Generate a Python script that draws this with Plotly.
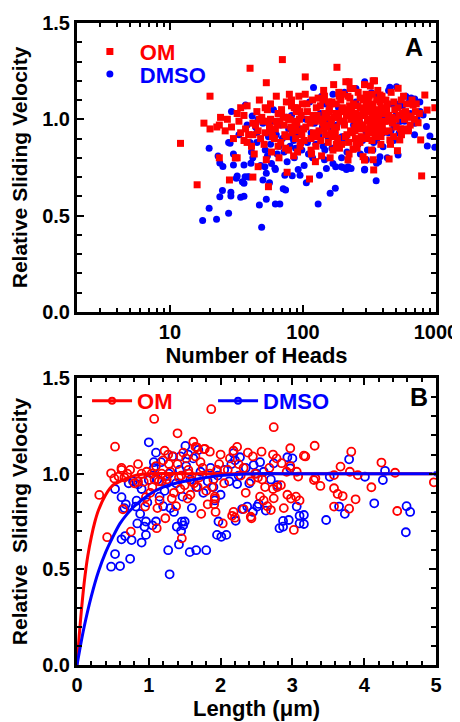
import plotly.graph_objects as go

# ---------------- Panel A data: number of heads vs relative sliding velocity
om_heads = [
    12, 16, 20, 18, 20, 22.5, 24, 23.5, 23.5, 28,
    29, 31, 32, 32, 33, 27, 30, 34, 34, 26,
    40, 53, 42, 46, 38, 36, 37, 39, 41, 44,
    45, 48, 50, 52, 55, 57, 58, 47, 43, 49,
    51, 54, 56, 59, 38, 42, 46, 53, 57, 36,
    70, 104, 76, 62, 65, 68, 72, 75, 78, 80,
    83, 86, 88, 90, 93, 95, 97, 63, 66, 69,
    73, 77, 81, 85, 89, 92, 96, 99, 67, 74,
    61, 79, 87, 94, 71, 84, 91, 64, 98, 82,
    112, 180, 170, 105, 108, 115, 118, 122, 125, 128,
    132, 135, 138, 142, 145, 148, 152, 155, 158, 162,
    165, 168, 172, 176, 182, 186, 190, 195, 198, 110,
    120, 130, 140, 150, 160, 175, 185, 192, 102, 116,
    126, 136, 146, 156, 166, 178, 188, 124, 144, 164,
    210, 290, 345, 340, 205, 215, 220, 225, 230, 235,
    240, 245, 250, 255, 260, 265, 270, 275, 280, 285,
    290, 295, 300, 305, 310, 315, 320, 325, 330, 335,
    350, 355, 360, 365, 370, 375, 380, 385, 390, 395,
    212, 228, 242, 258, 272, 288, 302, 318, 332, 348,
    222, 238, 252, 268, 282, 298, 312, 328, 342, 358,
    208, 232, 262, 278, 308, 338, 368, 388, 218, 248,
    337, 283, 291, 238, 218, 222, 337, 321,
    980, 824, 857, 673, 622, 733, 767, 513, 534, 444,
    412, 450, 519, 379, 780, 700, 410, 430, 470, 490,
    540, 560, 580, 600, 640, 660, 690, 620, 570, 460,
    500, 480, 420, 440, 520, 550, 590, 650, 710, 750,
    42, 47, 52, 58, 63, 69, 75, 82, 88, 95,
    101, 107, 113, 119, 127, 134, 141, 149, 157, 163,
    171, 179, 187, 196, 204, 214, 224, 234, 246, 257,
    269, 281, 293, 306, 319, 333, 347, 362, 377, 393,
    409, 426, 444, 463, 482, 503, 525, 548, 572, 597,
    115, 143, 178, 226, 274, 331, 386, 455, 138, 199,
    55, 65, 78, 91, 104, 160, 250, 310, 365, 420,
]
om_vel_a = [
    0.875, 0.66, 1.12, 0.98, 0.95, 0.96, 1.01, 0.97, 0.80, 0.685,
    0.96, 0.80, 1.03, 0.80, 0.99, 1.00, 0.90, 0.93, 1.06, 0.94,
    1.265, 1.19, 0.70, 0.754, 0.88, 1.02, 0.95, 0.92, 0.86, 0.97,
    1.04, 0.90, 0.99, 0.93, 0.65, 1.08, 0.83, 1.10, 0.82, 1.01,
    0.87, 1.05, 0.96, 0.91, 1.07, 0.98, 0.94, 0.79, 1.00, 0.89,
    1.31, 1.22, 0.725, 0.95, 1.03, 0.88, 0.97, 1.09, 0.84, 1.00,
    0.93, 1.06, 0.90, 0.98, 1.12, 0.86, 1.02, 1.12, 0.80, 1.05,
    0.92, 1.01, 0.96, 0.81, 1.04, 0.94, 0.88, 1.08, 0.99, 0.85,
    0.90, 1.13, 0.99, 1.00, 1.01, 0.95, 0.83, 0.97, 0.92, 1.07,
    0.69, 1.27, 1.18, 0.96, 1.04, 0.90, 1.10, 0.99, 0.86, 1.02,
    0.94, 1.07, 0.81, 0.98, 1.12, 0.92, 1.01, 0.88, 1.05, 0.97,
    1.09, 0.84, 0.95, 1.03, 0.90, 1.14, 0.99, 0.87, 1.06, 1.00,
    0.93, 1.11, 1.00, 0.96, 0.80, 0.93, 1.01, 1.10, 0.89, 0.82,
    1.06, 0.89, 1.03, 1.09, 0.91, 1.08, 0.85, 0.78, 0.95, 1.00,
    1.195, 1.18, 1.20, 0.737, 0.97, 1.05, 0.88, 1.11, 1.00, 0.93,
    1.08, 0.96, 1.03, 0.85, 1.14, 0.99, 1.06, 0.91, 1.02, 1.10,
    0.79, 0.95, 1.07, 1.00, 0.93, 1.12, 0.97, 1.04, 0.89, 1.08,
    0.98, 1.05, 0.92, 1.15, 1.01, 0.94, 1.09, 0.87, 1.03, 0.96,
    1.02, 0.94, 1.00, 1.07, 0.95, 1.03, 0.90, 1.00, 1.13, 0.91,
    0.82, 1.16, 0.98, 0.88, 1.05, 1.13, 0.99, 0.84, 1.01, 1.10,
    0.91, 1.06, 1.01, 0.97, 1.04, 0.96, 0.99, 1.06, 1.12, 0.90,
    0.79, 0.806, 0.789, 0.844, 0.789, 1.195, 1.20, 1.173,
    1.06, 1.126, 1.048, 1.074, 1.017, 0.982, 0.893, 0.837, 0.893, 0.794,
    0.936, 0.893, 1.161, 1.126, 0.706, 1.04, 1.03, 1.08, 0.98, 1.05,
    0.95, 1.03, 1.00, 1.08, 0.97, 1.10, 1.00, 0.94, 1.12, 1.14,
    1.00, 0.91, 0.99, 1.02, 1.06, 0.92, 1.04, 1.01, 1.08, 1.03,
    0.92, 1.00, 1.06, 0.94, 0.99, 1.03, 0.91, 1.10, 0.97, 1.04,
    0.95, 1.08, 0.98, 1.02, 0.91, 1.00, 1.10, 0.97, 1.04, 0.93,
    1.01, 0.96, 1.12, 1.04, 0.99, 0.92, 1.07, 1.03, 0.94, 1.00,
    1.11, 0.97, 1.02, 0.95, 1.06, 1.01, 0.97, 1.04, 0.98, 1.12,
    0.99, 1.05, 0.94, 1.01, 1.09, 0.96, 1.02, 1.10, 0.95, 1.03,
    0.84, 1.15, 0.87, 1.16, 0.90, 0.93, 0.91, 0.87, 0.99, 1.13,
    0.99, 0.86, 1.00, 1.06, 1.13, 1.08, 0.88, 1.09, 0.95, 1.10,
]

dmso_heads = [
    19.7, 23, 23.7, 25, 24.8, 23.7, 19.7, 17.6, 22.4, 27.6,
    27.6, 28.3, 30, 36, 37, 31.5, 36.7, 36, 28.7, 28.7,
    34, 29, 35, 39, 32, 36, 37, 33, 38, 30,
    48.9, 47, 53, 62, 67, 71, 74, 95, 106, 56,
    50, 53, 83, 73, 42, 45, 52, 58, 64, 70,
    76, 80, 86, 90, 44, 48, 55, 60, 66, 78,
    85, 92, 98, 41, 46, 54, 62, 68, 82, 88,
    38.7, 40.6, 51.7, 61.5, 41.5,
    120, 130, 160, 175, 133, 150, 176, 200, 216, 110,
    115, 125, 140, 145, 155, 165, 180, 190, 105, 135,
    170, 185, 195, 102, 122, 148, 158, 168, 128, 142,
    291, 450, 505, 593, 692, 756, 800, 534, 692, 620,
    848, 900, 860, 980, 527, 357, 327, 245, 400, 519,
    379, 357, 291, 355, 218, 194, 212, 230, 290, 430,
    210, 240, 260, 280, 300, 320, 340, 250, 270, 310,
    330, 350, 370, 380, 395, 220, 265, 305, 440, 470,
    480, 560, 650, 760, 410, 580, 640, 720, 500, 460,
    40, 45, 50, 57, 63, 72, 80, 88, 97, 108,
    118, 132, 146, 162, 178, 196, 214, 234, 256, 280,
    305, 335, 365, 400, 440, 480, 525, 575, 630, 690,
    60, 75, 90, 112, 138, 168, 205, 250, 300, 370,
]
dmso_vel_a = [
    0.85, 0.81, 0.773, 0.755, 0.63, 0.598, 0.538, 0.474, 0.481, 0.512,
    0.879, 0.875, 0.763, 0.763, 1.074, 0.694, 0.702, 0.668, 0.621, 0.602,
    0.595, 1.04, 0.676, 0.70, 0.706, 0.60, 1.07, 0.92, 0.97, 0.82,
    0.439, 0.555, 0.585, 0.56, 0.56, 0.64, 0.633, 0.71, 0.67, 0.67,
    0.685, 0.72, 0.707, 0.71, 0.80, 0.88, 0.84, 0.77, 0.82, 0.90,
    0.78, 0.86, 0.80, 0.93, 0.96, 0.76, 0.91, 0.99, 0.86, 0.95,
    0.89, 0.74, 0.84, 0.83, 1.00, 0.81, 0.74, 0.97, 1.02, 0.96,
    0.702, 0.772, 0.754, 0.746, 1.017,
    1.165, 0.56, 0.616, 0.642, 0.71, 0.745, 0.754, 0.75, 0.745, 0.82,
    0.93, 0.87, 0.96, 0.79, 0.90, 0.85, 0.97, 0.88, 1.00, 1.03,
    0.93, 1.06, 0.80, 0.76, 0.98, 1.08, 0.99, 0.77, 0.91, 0.86,
    1.195, 1.166, 1.169, 1.12, 1.105, 1.09, 1.022, 0.988, 0.979, 0.944,
    0.962, 0.913, 0.861, 0.855, 0.927, 0.893, 1.138, 0.849, 0.858, 0.815,
    0.806, 0.772, 0.741, 0.681, 0.754, 0.754, 0.74, 0.745, 0.737, 0.80,
    0.90, 0.97, 0.87, 1.03, 0.93, 0.99, 0.88, 1.09, 0.82, 1.06,
    0.96, 1.00, 0.91, 1.05, 0.95, 1.02, 0.99, 0.84, 0.93, 1.08,
    0.97, 1.07, 1.11, 1.04, 1.01, 0.99, 1.03, 1.00, 1.02, 0.94,
    0.88, 0.93, 0.98, 0.87, 0.92, 0.83, 0.91, 0.85, 0.95, 0.88,
    0.80, 0.92, 0.84, 0.95, 0.86, 0.91, 0.83, 0.94, 1.07, 0.89,
    1.10, 0.84, 1.12, 0.93, 1.15, 0.89, 1.08, 0.94, 1.09, 0.92,
    1.05, 1.01, 1.04, 1.09, 1.12, 1.13, 1.14, 1.16, 0.79, 0.78,
]

# ---------------- Panel B data: filament length vs relative sliding velocity
om_length = [
    0.31, 0.42, 0.475, 0.53, 0.52, 0.58, 0.62, 0.62, 0.74, 0.64,
    0.75, 0.85, 0.96, 0.95, 1.075, 1.11, 1.23, 1.40, 1.46, 1.27,
    0.90, 0.97, 1.04, 0.85, 0.93, 1.18, 1.23, 0.66, 0.70, 0.80,
    1.05, 1.10, 1.15, 1.20, 1.25, 1.30, 1.35, 1.40, 1.45, 1.50,
    1.55, 1.60, 1.65, 1.70, 1.75, 1.80, 1.85, 1.90, 1.95, 1.62,
    1.67, 1.77, 1.87, 1.12, 1.22, 1.32, 1.42, 1.52, 1.58, 1.68,
    1.72, 1.82, 1.92, 1.98, 1.08, 1.18, 1.28, 1.38, 1.48, 1.56,
    1.63, 1.73, 1.78, 1.88, 1.93, 1.02, 1.14, 1.34, 1.44, 1.54,
    1.65, 1.85, 2.00, 2.13, 2.23, 2.18, 2.38, 2.45, 2.57,
    2.74, 2.73, 2.78, 2.85, 2.97, 2.97, 3.08, 3.06, 2.52, 2.58,
    2.62, 2.73, 2.79, 2.84, 2.93, 2.98, 3.05, 3.10, 2.03, 3.02,
    2.16, 2.18, 2.20, 1.92, 1.91, 2.05, 2.10, 2.28, 2.35, 2.42,
    2.48, 2.55, 2.65, 2.68, 2.88, 2.92, 2.25, 2.32, 2.60, 2.70,
    2.42, 2.32, 2.74, 3.16, 2.43,
    3.31, 3.82, 3.18, 4.24, 3.67, 4.43, 3.80, 3.91, 3.58, 3.30,
    3.32, 3.39, 3.58, 3.63, 3.70, 4.10, 3.88, 3.58, 3.79, 4.46,
    4.97,
]
om_vel_b = [
    0.889, 0.668, 1.002, 1.141, 0.975, 0.985, 1.03, 1.02, 1.02, 0.814,
    0.697, 1.05, 0.877, 0.828, 1.286, 0.715, 0.767, 1.211, 0.662, 1.10,
    1.00, 1.01, 1.00, 0.958, 0.958, 0.958, 0.985, 0.98, 1.00, 0.95,
    0.93, 1.04, 0.86, 1.07, 0.97, 1.01, 0.90, 1.05, 0.99, 0.94,
    1.02, 0.96, 1.09, 0.98, 1.03, 0.91, 1.00, 0.97, 1.02, 1.167,
    1.138, 1.128, 1.337, 0.82, 1.12, 0.87, 0.98, 1.08, 0.89, 0.93,
    1.06, 0.84, 0.88, 1.05, 0.97, 1.00, 1.05, 0.83, 1.11, 1.00,
    0.95, 0.79, 1.13, 0.93, 0.80, 0.90, 0.96, 1.09, 0.92, 0.87,
    1.14, 1.115, 1.10, 1.08, 1.14, 1.12, 1.11, 1.09, 1.115,
    1.243, 1.10, 1.08, 1.055, 1.133, 1.04, 0.985, 1.01, 0.98, 0.97,
    0.93, 0.92, 0.93, 0.94, 0.89, 0.87, 0.88, 0.86, 0.74, 0.706,
    0.78, 0.80, 0.77, 0.87, 0.84, 0.95, 1.02, 0.99, 0.90, 0.96,
    1.00, 0.88, 0.83, 1.03, 0.82, 1.01, 1.05, 1.03, 0.86, 0.81,
    0.775, 0.815, 0.871, 1.094, 0.767,
    1.146, 1.115, 1.09, 1.058, 1.037, 1.005, 1.01, 0.993, 0.993, 0.967,
    0.976, 0.936, 0.924, 0.894, 0.883, 0.929, 0.866, 0.828, 0.817, 0.805,
    0.955,
]

dmso_length = [
    1.0, 0.53, 0.62, 0.68, 0.66, 0.83, 0.82, 0.67, 0.62, 0.76,
    0.53, 0.475, 0.60, 0.90, 0.84, 0.96, 1.05, 1.10, 0.94, 0.96,
    0.85, 0.90, 1.00, 1.07, 1.07, 1.10, 1.27, 1.42, 1.45, 1.50,
    1.48, 1.57, 0.72, 0.78, 0.88, 0.98, 1.15, 1.20, 1.25, 1.30,
    1.12, 1.17, 1.22, 1.28, 1.33, 1.38, 1.43, 1.47, 1.52, 1.58,
    1.62, 1.66, 1.72, 1.76, 1.82, 1.86, 1.92, 1.96, 1.29, 1.51,
    1.55, 1.69, 1.44, 1.66, 1.80, 1.39, 1.46, 0.74, 1.35, 1.60,
    1.95, 2.01, 2.08, 1.97, 2.30, 2.45,
    2.82, 3.10, 3.10, 2.05, 2.15, 2.25,
    2.35, 2.50, 2.60, 2.70, 1.90, 2.00, 2.12, 2.20, 2.40, 2.55,
    2.18, 2.27, 2.46, 2.74, 2.93, 3.00, 2.97, 2.23, 2.79, 2.37,
    2.51, 2.53, 2.63, 2.21, 2.87, 2.87, 2.95, 3.06, 3.16, 3.16,
    3.47, 3.52, 3.79, 3.65, 3.73, 4.01, 4.14, 4.26, 4.29, 4.59,
    4.64, 4.58,
]
dmso_vel_b = [
    1.164, 0.92, 0.877, 0.84, 0.82, 0.859, 0.828, 0.674, 0.657, 0.653,
    0.58, 0.514, 0.517, 0.64, 0.74, 0.75, 0.73, 0.75, 0.723, 0.68,
    0.944, 0.92, 0.967, 1.06, 1.03, 1.11, 0.60, 0.63, 0.70, 0.75,
    0.73, 0.59, 0.95, 0.96, 0.79, 0.85, 0.88, 0.83, 0.95, 0.82,
    0.97, 1.06, 0.91, 1.00, 1.09, 0.95, 1.02, 0.88, 1.04, 0.97,
    1.08, 0.93, 1.01, 0.90, 0.96, 1.03, 0.86, 0.99, 0.474, 1.145,
    1.10, 1.124, 1.09, 0.60, 0.60, 0.723, 0.749, 0.555, 0.80, 0.82,
    0.68, 0.67, 0.68, 0.75, 0.815, 0.80,
    0.715, 0.78, 0.74, 1.02, 1.05, 0.99,
    1.03, 1.00, 1.01, 0.97, 0.93, 0.89, 0.96, 1.07, 0.95, 1.06,
    1.107, 1.086, 1.045, 1.054, 1.086, 1.08, 1.028, 0.946, 0.94, 0.828,
    0.828, 0.842, 0.807, 0.754, 0.753, 0.723, 0.758, 0.828, 0.784, 0.737,
    0.758, 0.984, 1.075, 0.828, 0.79, 0.984, 0.845, 0.967, 1.015, 0.83,
    0.80, 0.694,
]

# fitted curves, points
om_fit_x = [0, 0.03, 0.06, 0.1, 0.15, 0.2, 0.25, 0.3, 0.4, 0.5, 0.6, 0.8, 1.0, 1.5, 2, 3, 4, 5]
om_fit_y = [0, 0.15, 0.28, 0.43, 0.57, 0.67, 0.75, 0.81, 0.89, 0.94, 0.96, 0.99, 1.0, 1.0, 1.0, 1.0, 1.0, 1.0]
dmso_fit_x = [0, 0.05, 0.1, 0.2, 0.3, 0.4, 0.5, 0.6, 0.7, 0.8, 1.0, 1.2, 1.5, 2.0, 2.5, 3, 4, 5]
dmso_fit_y = [0, 0.105, 0.20, 0.36, 0.49, 0.59, 0.67, 0.74, 0.79, 0.83, 0.89, 0.93, 0.96, 0.99, 1.0, 1.0, 1.0, 1.0]

y_ticks = [0, 0.5, 1.0, 1.5]
y_ticktext = ["0.0", "0.5", "1.0", "1.5"]
heads_ticks = [10, 100, 1000]
heads_ticktext = ["10", "100", "1000"]
heads_minor = [2, 3, 4, 5, 6, 7, 8, 9, 20, 30, 40, 50, 60, 70, 80, 90,
               200, 300, 400, 500, 600, 700, 800, 900]
length_ticks = [0, 1, 2, 3, 4, 5]

RED = "#ff0000"
BLUE = "#0000ff"
FONT = "Liberation Sans, Arial, sans-serif"


def bold(labels):
    return ["<b>%s</b>" % t for t in labels]


fig = go.Figure()

# ---- Panel A (xaxis / yaxis)
fig.add_trace(go.Scatter(
    x=dmso_heads, y=dmso_vel_a, mode="markers", xaxis="x", yaxis="y",
    marker=dict(symbol="circle", size=7, color=BLUE),
    name='<span style="color:#0000ff">DMSO</span>', legend="legend3",
))
fig.add_trace(go.Scatter(
    x=om_heads, y=om_vel_a, mode="markers", xaxis="x", yaxis="y",
    marker=dict(symbol="square", size=7, color=RED),
    name='<span style="color:#ff0000">OM</span>', legend="legend",
))

# ---- Panel B (xaxis2 / yaxis2)
fig.add_trace(go.Scatter(
    x=dmso_length, y=dmso_vel_b, mode="markers", xaxis="x2", yaxis="y2",
    marker=dict(symbol="circle-open", size=8, color=BLUE, line=dict(width=1.8, color=BLUE)),
    showlegend=False,
))
fig.add_trace(go.Scatter(
    x=om_length, y=om_vel_b, mode="markers", xaxis="x2", yaxis="y2",
    marker=dict(symbol="circle-open", size=8, color=RED, line=dict(width=1.8, color=RED)),
    showlegend=False,
))
fig.add_trace(go.Scatter(
    x=om_fit_x, y=om_fit_y, mode="lines", xaxis="x2", yaxis="y2",
    line=dict(color=RED, width=3, shape="spline", smoothing=0.6), showlegend=False,
))
fig.add_trace(go.Scatter(
    x=dmso_fit_x, y=dmso_fit_y, mode="lines+markers", xaxis="x2", yaxis="y2",
    line=dict(color=BLUE, width=3, shape="spline", smoothing=0.6),
    marker=dict(symbol="circle", size=[0] * (len(dmso_fit_x) - 1) + [7], color=BLUE),
    showlegend=False,
))
# legend entries for panel B
fig.add_trace(go.Scatter(
    x=[None], y=[None], mode="lines+markers", xaxis="x2", yaxis="y2",
    line=dict(color=RED, width=3), marker=dict(symbol="circle-open", size=6, color=RED, line=dict(width=2, color=RED)),
    name='<span style="color:#ff0000">OM</span>', legend="legend2", legendrank=1,
))
fig.add_trace(go.Scatter(
    x=[None], y=[None], mode="lines+markers", xaxis="x2", yaxis="y2",
    line=dict(color=BLUE, width=3), marker=dict(symbol="circle-open", size=6, color=BLUE, line=dict(width=2, color=BLUE)),
    name='<span style="color:#0000ff">DMSO</span>', legend="legend2", legendrank=2,
))

tickfont = dict(family=FONT, size=20, color="black", weight="bold")
xtitlefont = dict(family=FONT, size=22, color="black", weight="bold")
ytitlefont = dict(family=FONT, size=21, color="black", weight="bold")
legfont = dict(family=FONT, size=22, weight="bold")

common_axis = dict(
    showline=True, linewidth=3, linecolor="black", mirror="allticks",
    ticks="inside", tickwidth=2, tickcolor="black", ticklen=7,
    showgrid=False, zeroline=False, tickfont=tickfont, automargin=False,
)

yaxis_common = dict(
    common_axis, range=[0, 1.5], tickmode="array", tickvals=y_ticks, ticktext=bold(y_ticktext),
    minor=dict(ticks="inside", dtick=0.1, tick0=0, ticklen=5, tickwidth=2, tickcolor="black", showgrid=False),
)

# the page body adds an 8 px offset, so margins are shifted by 8 px
fig.update_layout(
    width=460, height=714,
    margin=dict(l=69, r=32, t=15, b=57),
    paper_bgcolor="white", plot_bgcolor="white",
    font=dict(family=FONT, color="black"),
    xaxis=dict(
        common_axis, type="log", range=[0.301, 3.0], domain=[0, 1], anchor="y",
        tickmode="array", tickvals=heads_ticks, ticktext=bold(heads_ticktext),
        minor=dict(ticks="inside", tickmode="array", tickvals=heads_minor, ticklen=4,
                   tickwidth=2, tickcolor="black", showgrid=False),
        title=dict(text="<b>Number of Heads</b>", font=xtitlefont, standoff=5),
    ),
    yaxis=dict(
        yaxis_common, domain=[0.55, 1.0], anchor="x",
        title=dict(text="<b>Relative Sliding Velocity</b>", font=ytitlefont, standoff=9),
    ),
    xaxis2=dict(
        common_axis, range=[0, 5], domain=[0, 1], anchor="y2",
        tickmode="array", tickvals=length_ticks, ticktext=bold([str(v) for v in length_ticks]),
        minor=dict(ticks="inside", dtick=0.2, tick0=0, ticklen=4, tickwidth=2,
                   tickcolor="black", showgrid=False),
        title=dict(text="<b>Length (μm)</b>", font=xtitlefont, standoff=4),
    ),
    yaxis2=dict(
        yaxis_common, domain=[0, 0.447], anchor="x2",
        title=dict(text="<b>Relative  Sliding Velocity</b>", font=ytitlefont, standoff=9),
    ),
    legend=dict(
        x=0.008, y=0.988, xanchor="left", yanchor="top", orientation="v",
        font=legfont, bgcolor="rgba(0,0,0,0)", itemwidth=50,
    ),
    legend3=dict(
        x=0.008, y=0.953, xanchor="left", yanchor="top", orientation="v",
        font=legfont, bgcolor="rgba(0,0,0,0)", itemwidth=50,
    ),
    legend2=dict(
        x=0.028, y=0.444, xanchor="left", yanchor="top", orientation="h",
        font=legfont, bgcolor="rgba(0,0,0,0)", itemwidth=40, entrywidth=71,
    ),
    annotations=[
        dict(text="<b>A</b>", x=0.97, y=0.987, xref="paper", yref="paper", xanchor="right", yanchor="top",
             showarrow=False, font=dict(family=FONT, size=25, color="black")),
        dict(text="<b>B</b>", x=0.982, y=0.443, xref="paper", yref="paper", xanchor="right", yanchor="top",
             showarrow=False, font=dict(family=FONT, size=25, color="black")),
    ],
    showlegend=True,
)

fig.write_html("out.html")
